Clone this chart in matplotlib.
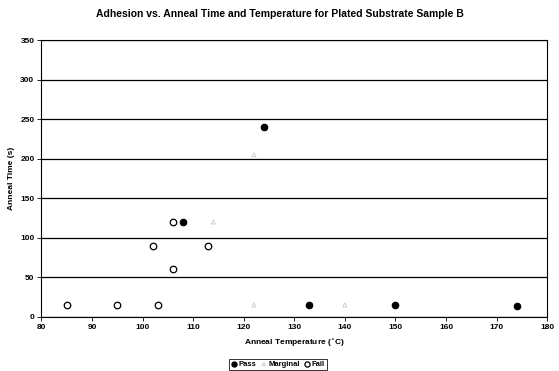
import matplotlib
matplotlib.use("Agg")
import matplotlib.pyplot as plt

pass_temp = [108, 124, 133, 150, 174]
pass_time = [120, 240, 15, 15, 14]
marg_temp = [114, 122, 140, 122]
marg_time = [120, 15, 15, 205]
fail_temp = [85, 95, 103, 102, 106, 106, 113]
fail_time = [15, 15, 15, 90, 120, 60, 90]

plt.rcParams['font.family'] = ['Liberation Sans', 'DejaVu Sans']
fig = plt.figure(figsize=(5.59, 3.71), dpi=100)
ax = fig.add_axes([0.074, 0.146, 0.905, 0.746])

ax.scatter(pass_temp, pass_time, s=22, c='black', edgecolors='black', linewidths=0.8, label='Pass', zorder=3)
ax.scatter(marg_temp, marg_time, s=9, marker='^', c='none', edgecolors='#c8c8c8', linewidths=0.6, label='Marginal', zorder=3)
ax.scatter(fail_temp, fail_time, s=22, facecolors='white', edgecolors='black', linewidths=0.9, label='Fail', zorder=3)

ax.set_xlim(80, 180)
ax.set_ylim(0, 350)
ax.set_xticks(range(80, 181, 10))
ax.set_yticks(range(0, 351, 50))
ax.yaxis.grid(True, color='black', linewidth=0.9)
ax.set_axisbelow(True)
for s in ax.spines.values():
    s.set_linewidth(0.8)
ax.tick_params(labelsize=6, length=3, width=0.6, pad=2)
ax.set_xlabel('Anneal Temperature ($^{\\circ}$C)', fontsize=6, fontweight='bold', labelpad=4)
ax.set_ylabel('Anneal Time (s)', fontsize=6, fontweight='bold', labelpad=4)
for lbl in ax.get_xticklabels() + ax.get_yticklabels():
    lbl.set_fontweight('bold')
fig.suptitle('Adhesion vs. Anneal Time and Temperature for Plated Substrate Sample B',
             fontsize=7.5, fontweight='bold', y=0.975)

leg = fig.legend(loc='center', bbox_to_anchor=(0.497, 0.018), ncol=3, fontsize=5.5,
                 frameon=True, fancybox=False, edgecolor='black', handletextpad=0.2,
                 columnspacing=0.6, borderpad=0.25, handlelength=0.8, markerscale=0.8)
leg.get_frame().set_linewidth(0.7)
for t in leg.get_texts():
    t.set_fontweight('bold')

fig.savefig('out.png', dpi=100)
